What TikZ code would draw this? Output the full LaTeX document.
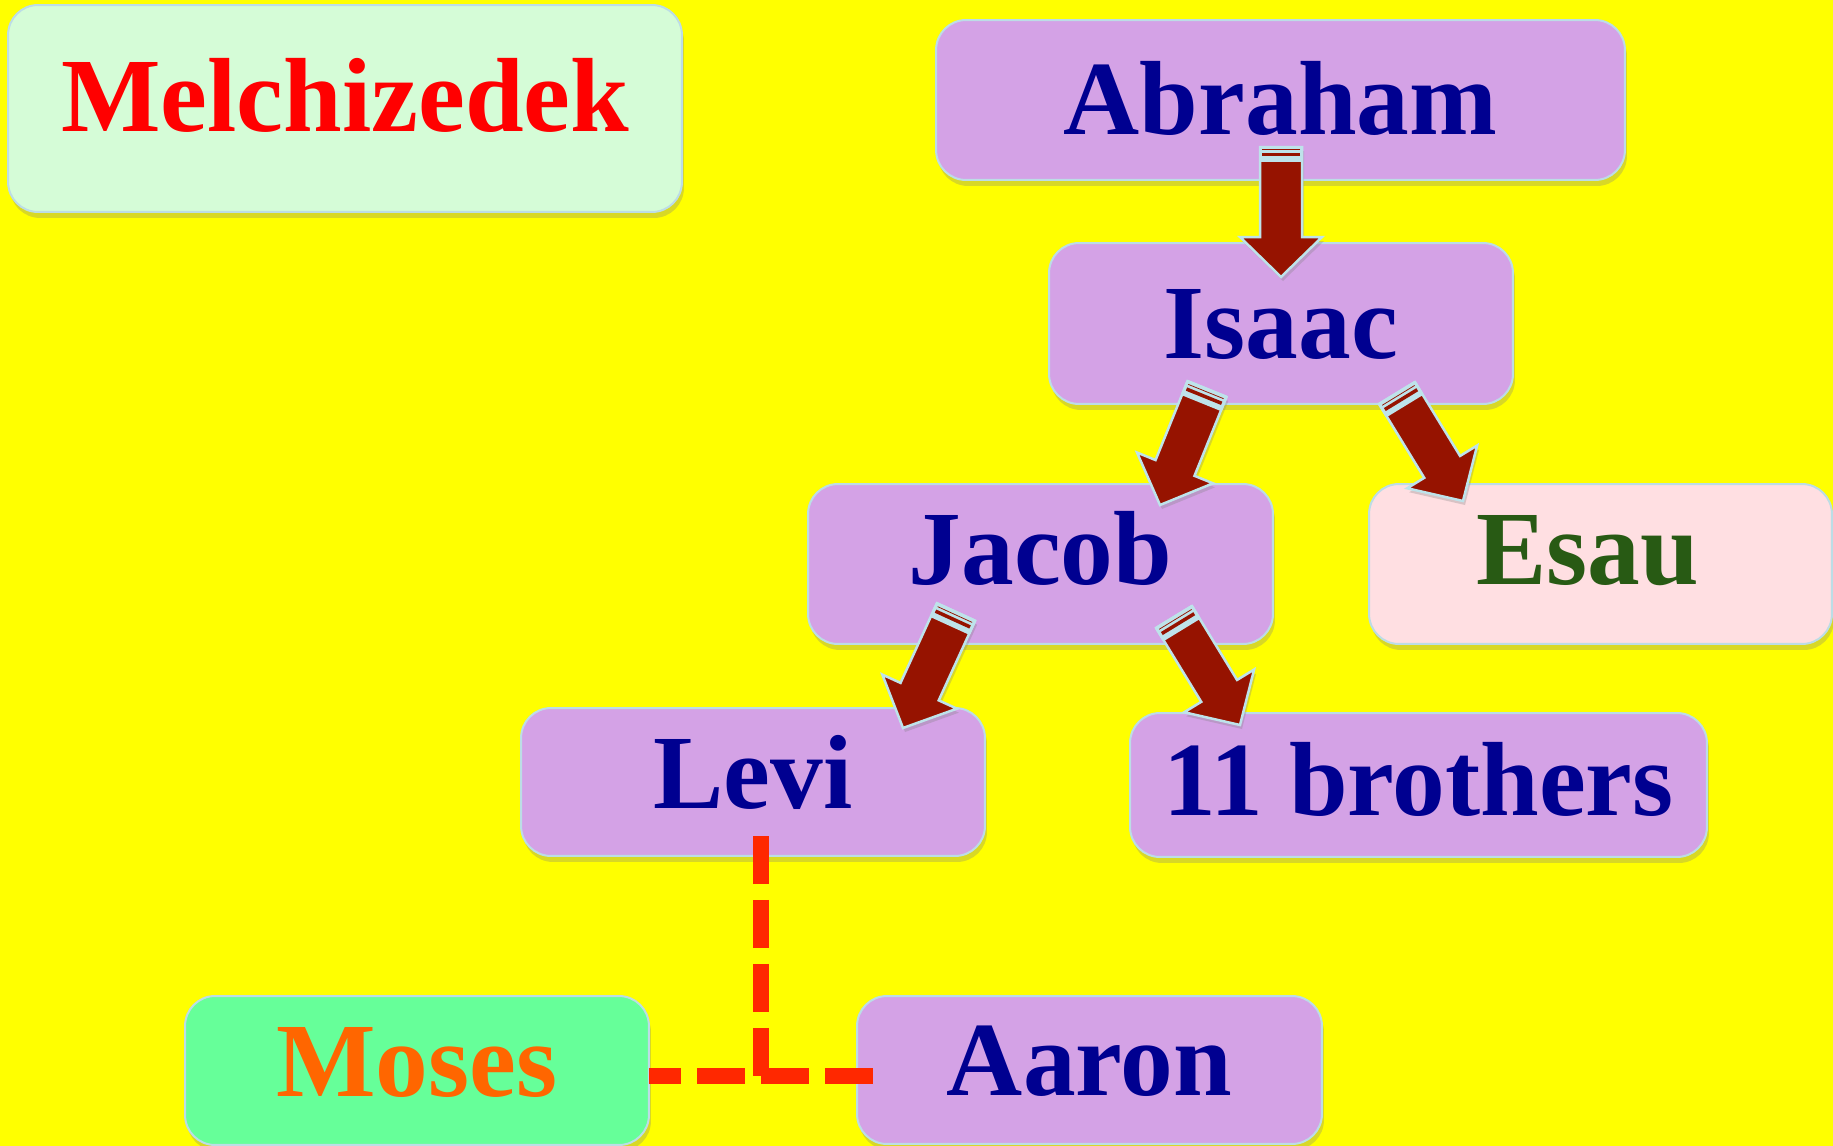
\documentclass[tikz,border=0pt]{standalone}
\usepackage{fontspec}
\setmainfont{Liberation Serif}
\usetikzlibrary{calc,shadows}

\definecolor{slidebg}{HTML}{FFFF00}
\definecolor{kinbox}{HTML}{D4A2E6}
\definecolor{kinrim}{HTML}{BCDDE6}
\definecolor{kinname}{HTML}{000090}
\definecolor{melchbox}{HTML}{D5FCD7}
\definecolor{esaubox}{HTML}{FFDFE2}
\definecolor{esauname}{HTML}{285A14}
\definecolor{mosesbox}{HTML}{66FF99}
\definecolor{mosesname}{HTML}{FF6600}
\definecolor{arrowred}{HTML}{961300}
\definecolor{arrowrim}{HTML}{BEE3EA}
\definecolor{linered}{HTML}{FF2800}

% block arrow from #1 (tail) to #2 (tip)
\newcommand\kinarrow[2]{%
  \coordinate (hb) at ($(#2)!0.8cm!(#1)$);
  \coordinate (tb) at ($(#1)!0.28cm!(#2)$);
  \coordinate (s1) at ($(#1)!0.055cm!(#2)$);
  \coordinate (s2) at ($(#1)!0.155cm!(#2)$);
  \filldraw[descent] ($(#1)!0.42cm!90:(#2)$) -- ($(hb)!0.42cm!-90:(#1)$)
    -- ($(hb)!0.82cm!-90:(#1)$) -- (#2) -- ($(hb)!0.82cm!90:(#1)$)
    -- ($(hb)!0.42cm!90:(#1)$) -- ($(#1)!0.42cm!-90:(#2)$) -- cycle;
  \filldraw[fill=arrowrim, draw=arrowrim, line width=0.05cm, line join=round]
    ($(#1)!0.42cm!90:(#2)$) -- ($(tb)!0.42cm!-90:(#1)$)
    -- ($(tb)!0.42cm!90:(#1)$) -- ($(#1)!0.42cm!-90:(#2)$) -- cycle;
  \draw[arrowred, line width=0.015cm] ($(s1)!0.38cm!90:(#2)$) -- ($(s1)!0.38cm!-90:(#2)$);
  \draw[arrowred, line width=0.07cm] ($(s2)!0.38cm!90:(#2)$) -- ($(s2)!0.38cm!-90:(#2)$);
}

\begin{document}
\begin{tikzpicture}[x=0.02cm,y=-0.02cm,
    kin/.style ={rounded corners=0.6cm, fill=kinbox, draw=kinrim, line width=0.04cm,
      text=kinname, font=\fontsize{60}{72}\selectfont\bfseries, inner sep=1pt,
      minimum width=9.28cm, minimum height=3.2cm, text height=1.4cm, text depth=0cm,
      drop shadow={opacity=0.3, shadow xshift=0.04cm, shadow yshift=-0.12cm}},
    descent/.style ={fill=arrowred, draw=arrowrim, line width=0.05cm, line join=miter,
      drop shadow={opacity=0.3, shadow xshift=0.04cm, shadow yshift=-0.08cm}},
    kinline/.style ={linered, line width=0.32cm, dash pattern=on 0.96cm off 0.32cm}]
   \useasboundingbox (0,0) rectangle (1833,1146);
   \fill[slidebg] (0,0) rectangle (1833,1146);

   \node[kin, fill=melchbox, text=red, minimum width=13.48cm, minimum height=4.14cm, text depth=0.48cm] (melch) at (345,108.5) {Melchizedek};
   \node[kin, minimum width=13.78cm] (abr) at (1280.5,100) {Abraham};
   \node[kin, minimum height=3.22cm] (isaac) at (1281,323.5) {Isaac};
   \node[kin, minimum width=9.3cm, text depth=0.6cm] (jacob) at (1040.5,564) {Jacob};
   \node[kin, fill=esaubox, text=esauname, minimum width=9.26cm, text depth=0.6cm] (esau) at (1600.5,564) {Esau\hspace*{0.52cm}};
   \node[kin, minimum height=2.96cm, text depth=0.36cm] (levi) at (753,782) {Levi};
   \node[kin, minimum width=11.54cm, minimum height=2.88cm, text depth=0.2cm] (bros) at (1418.5,785) {11 brothers};
   \node[kin, fill=mosesbox, text=mosesname, minimum height=2.98cm, text depth=0.36cm] (moses) at (417,1070.5) {Moses};
   \node[kin, minimum width=9.3cm, minimum height=2.96cm, text depth=0.4cm] (aaron) at (1089.5,1070) {Aaron};

   \coordinate (abr-out) at (1281,147);
   \coordinate (isaac-in) at (1281,277);
   \coordinate (isaac-outl) at (1207,389);
   \coordinate (jacob-in) at (1160,505);
   \coordinate (isaac-outr) at (1397,393);
   \coordinate (esau-in) at (1463,501);
   \coordinate (jacob-outl) at (956,612);
   \coordinate (levi-in) at (903,728);
   \coordinate (jacob-outr) at (1174,617);
   \coordinate (bros-in) at (1240,725);

   \kinarrow{abr-out}{isaac-in}
   \kinarrow{isaac-outl}{jacob-in}
   \kinarrow{isaac-outr}{esau-in}
   \kinarrow{jacob-outl}{levi-in}
   \kinarrow{jacob-outr}{bros-in}

   \coordinate (levi-foot) at (761,836);
   \coordinate (kin) at (761,1076);
   \coordinate (moses-side) at (649,1076);
   \coordinate (aaron-side) at (873,1076);
   \draw[kinline] (levi-foot) -- (kin);
   \draw[kinline, dash phase=0.32cm] (moses-side) -- (aaron-side);
 \end{tikzpicture}
\end{document}
